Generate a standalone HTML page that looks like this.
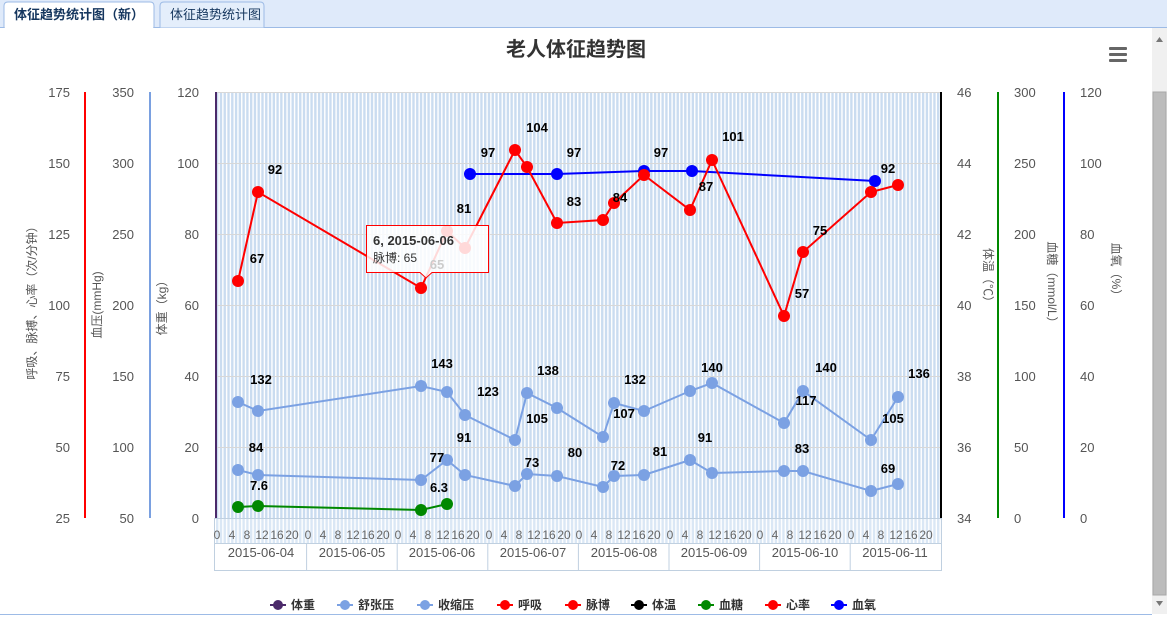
<!DOCTYPE html>
<html><head><meta charset="utf-8"><style>
body{margin:0;width:1167px;height:619px;overflow:hidden;background:#fff;font-family:"Liberation Sans","Noto Sans CJK SC",sans-serif}
</style></head><body>
<svg width="1167" height="619" xmlns="http://www.w3.org/2000/svg" font-family="Liberation Sans, Noto Sans CJK SC, sans-serif">
<defs>
<pattern id="st" x="216" y="0" width="3.775" height="10" patternUnits="userSpaceOnUse">
<rect width="2.4" height="10" fill="#cadcf0"/>
</pattern>
</defs>
<rect x="0" y="0" width="1167" height="27" fill="#dfeafa"/>
<line x1="0" y1="27.5" x2="1167" y2="27.5" stroke="#9dbbe6"/>
<path d="M4,27.5 V6 Q4,2 8,2 H150 Q154,2 154,6 V27.5" fill="#fff" stroke="#9dbbe6"/>
<rect x="5" y="26" width="148" height="3" fill="#fff"/>
<path d="M160,27.5 V6 Q160,2 164,2 H260 Q264,2 264,6 V27.5" fill="#e4eefb" stroke="#9dbbe6"/>
<text x="14" y="19" font-size="13" font-weight="bold" fill="#15365e">体征趋势统计图（新）</text>
<text x="170" y="19" font-size="13" fill="#15365e">体征趋势统计图</text>
<rect x="1152" y="28" width="15" height="586" fill="#f0f0f0"/>
<rect x="1153" y="92" width="13" height="503" fill="#bcbcbc" stroke="#a8a8a8"/>
<path d="M1156,42 L1159.5,37 L1163,42 Z" fill="#777"/>
<path d="M1156,601 L1159.5,606 L1163,601 Z" fill="#777"/>
<line x1="0" y1="614.5" x2="1152" y2="614.5" stroke="#9dbbe6"/>
<text x="576" y="56" font-size="20" font-weight="bold" fill="#333" text-anchor="middle">老人体征趋势图</text>
<g fill="#666"><rect x="1109" y="47" width="18" height="3" rx="1"/><rect x="1109" y="53" width="18" height="3" rx="1"/><rect x="1109" y="59" width="18" height="3" rx="1"/></g>
<rect x="216" y="92" width="725" height="426" fill="url(#st)"/>
<g stroke="#d8d8d8" stroke-width="1">
<line x1="216" y1="92.5" x2="941" y2="92.5"/><line x1="216" y1="163.5" x2="941" y2="163.5"/><line x1="216" y1="234.5" x2="941" y2="234.5"/><line x1="216" y1="305.5" x2="941" y2="305.5"/><line x1="216" y1="376.5" x2="941" y2="376.5"/><line x1="216" y1="447.5" x2="941" y2="447.5"/>
</g>
<rect x="216" y="518" width="725" height="25" fill="url(#st)" opacity="0.7"/>
<rect x="214.5" y="518.5" width="727" height="52" fill="none" stroke="#c0d0e0"/>
<line x1="214" y1="543.5" x2="941" y2="543.5" stroke="#c0d0e0"/>
<g stroke="#c0d0e0">
<line x1="306.6" y1="543" x2="306.6" y2="571"/><line x1="397.2" y1="543" x2="397.2" y2="571"/><line x1="487.8" y1="543" x2="487.8" y2="571"/><line x1="578.4" y1="543" x2="578.4" y2="571"/><line x1="669" y1="543" x2="669" y2="571"/><line x1="759.6" y1="543" x2="759.6" y2="571"/><line x1="850.2" y1="543" x2="850.2" y2="571"/>
</g>
<g font-size="12" fill="#666" text-anchor="middle">
<text x="217" y="539">0</text><text x="232" y="539">4</text><text x="247" y="539">8</text><text x="262" y="539">12</text><text x="277" y="539">16</text><text x="292" y="539">20</text>
<text x="308" y="539">0</text><text x="323" y="539">4</text><text x="338" y="539">8</text><text x="353" y="539">12</text><text x="368" y="539">16</text><text x="383" y="539">20</text>
<text x="398" y="539">0</text><text x="413" y="539">4</text><text x="428" y="539">8</text><text x="443" y="539">12</text><text x="458" y="539">16</text><text x="473" y="539">20</text>
<text x="489" y="539">0</text><text x="504" y="539">4</text><text x="519" y="539">8</text><text x="534" y="539">12</text><text x="549" y="539">16</text><text x="564" y="539">20</text>
<text x="579" y="539">0</text><text x="594" y="539">4</text><text x="609" y="539">8</text><text x="624" y="539">12</text><text x="639" y="539">16</text><text x="654" y="539">20</text>
<text x="670" y="539">0</text><text x="685" y="539">4</text><text x="700" y="539">8</text><text x="715" y="539">12</text><text x="730" y="539">16</text><text x="745" y="539">20</text>
<text x="760" y="539">0</text><text x="775" y="539">4</text><text x="790" y="539">8</text><text x="805" y="539">12</text><text x="820" y="539">16</text><text x="835" y="539">20</text>
<text x="851" y="539">0</text><text x="866" y="539">4</text><text x="881" y="539">8</text><text x="896" y="539">12</text><text x="911" y="539">16</text><text x="926" y="539">20</text>
</g>
<g font-size="13" fill="#555" text-anchor="middle">
<text x="261" y="557">2015-06-04</text><text x="352" y="557">2015-06-05</text><text x="442" y="557">2015-06-06</text><text x="533" y="557">2015-06-07</text><text x="624" y="557">2015-06-08</text><text x="714" y="557">2015-06-09</text><text x="805" y="557">2015-06-10</text><text x="895" y="557">2015-06-11</text>
</g>
<line x1="85" y1="92" x2="85" y2="518" stroke="#f00" stroke-width="2"/>
<line x1="150" y1="92" x2="150" y2="518" stroke="#7aa0e0" stroke-width="2"/>
<line x1="216" y1="92" x2="216" y2="518" stroke="#4b2a6a" stroke-width="2"/>
<line x1="941" y1="92" x2="941" y2="518" stroke="#000" stroke-width="2"/>
<line x1="998" y1="92" x2="998" y2="518" stroke="#080" stroke-width="2"/>
<line x1="1064" y1="92" x2="1064" y2="518" stroke="#00f" stroke-width="2"/>
<g font-size="13" fill="#555" text-anchor="end">
<text x="70" y="97">175</text><text x="70" y="168">150</text><text x="70" y="239">125</text><text x="70" y="310">100</text><text x="70" y="381">75</text><text x="70" y="452">50</text><text x="70" y="523">25</text>
<text x="134" y="97">350</text><text x="134" y="168">300</text><text x="134" y="239">250</text><text x="134" y="310">200</text><text x="134" y="381">150</text><text x="134" y="452">100</text><text x="134" y="523">50</text>
<text x="199" y="97">120</text><text x="199" y="168">100</text><text x="199" y="239">80</text><text x="199" y="310">60</text><text x="199" y="381">40</text><text x="199" y="452">20</text><text x="199" y="523">0</text>
</g>
<g font-size="13" fill="#555">
<text x="957" y="97">46</text><text x="957" y="168">44</text><text x="957" y="239">42</text><text x="957" y="310">40</text><text x="957" y="381">38</text><text x="957" y="452">36</text><text x="957" y="523">34</text>
<text x="1014" y="97">300</text><text x="1014" y="168">250</text><text x="1014" y="239">200</text><text x="1014" y="310">150</text><text x="1014" y="381">100</text><text x="1014" y="452">50</text><text x="1014" y="523">0</text>
<text x="1080" y="97">120</text><text x="1080" y="168">100</text><text x="1080" y="239">80</text><text x="1080" y="310">60</text><text x="1080" y="381">40</text><text x="1080" y="452">20</text><text x="1080" y="523">0</text>
</g>
<g font-size="12" fill="#555" text-anchor="middle">
<text transform="translate(36,300) rotate(-90)">呼吸、脉搏、心率（次/分钟）</text>
<text transform="translate(101,305) rotate(-90)">血压(mmHg)</text>
<text transform="translate(166,305) rotate(-90)">体重（kg）</text>
<text transform="translate(984,278) rotate(90)">体温（℃）</text>
<text transform="translate(1048,285) rotate(90)">血糖（mmol/L）</text>
<text transform="translate(1112,272) rotate(90)">血氧（%）</text>
</g>
<g fill="none" stroke-width="2">
<polyline stroke="#7ba1e3" points="238,402 258,411 421,386 447,392 465,415 515,440 527,393 557,408 603,437 614,403 644,411 690,391 712,383 784,423 803,391 871,440 898,397"/>
<polyline stroke="#7ba1e3" points="238,470 258,475 421,480 447,460 465,475 515,486 527,474 557,476 603,487 614,476 644,475 690,460 712,473 784,471 803,471 871,491 898,484"/>
<polyline stroke="#080" points="238,507 258,506 421,510 447,504"/>
<polyline stroke="#00f" points="470,174 557,174 644,171 692,171 875,181"/>
<polyline stroke="#f00" points="238,281 258,192 421,288 447,231 465,248 515,150 527,167 557,223 603,220 614,203 644,175 690,210 712,160 784,316 803,252 871,192 898,185"/>
</g>
<g fill="#7ba1e3">
<circle cx="238" cy="402" r="6"/><circle cx="258" cy="411" r="6"/><circle cx="421" cy="386" r="6"/><circle cx="447" cy="392" r="6"/><circle cx="465" cy="415" r="6"/><circle cx="515" cy="440" r="6"/><circle cx="527" cy="393" r="6"/><circle cx="557" cy="408" r="6"/><circle cx="603" cy="437" r="6"/><circle cx="614" cy="403" r="6"/><circle cx="644" cy="411" r="6"/><circle cx="690" cy="391" r="6"/><circle cx="712" cy="383" r="6"/><circle cx="784" cy="423" r="6"/><circle cx="803" cy="391" r="6"/><circle cx="871" cy="440" r="6"/><circle cx="898" cy="397" r="6"/>
<circle cx="238" cy="470" r="6"/><circle cx="258" cy="475" r="6"/><circle cx="421" cy="480" r="6"/><circle cx="447" cy="460" r="6"/><circle cx="465" cy="475" r="6"/><circle cx="515" cy="486" r="6"/><circle cx="527" cy="474" r="6"/><circle cx="557" cy="476" r="6"/><circle cx="603" cy="487" r="6"/><circle cx="614" cy="476" r="6"/><circle cx="644" cy="475" r="6"/><circle cx="690" cy="460" r="6"/><circle cx="712" cy="473" r="6"/><circle cx="784" cy="471" r="6"/><circle cx="803" cy="471" r="6"/><circle cx="871" cy="491" r="6"/><circle cx="898" cy="484" r="6"/>
</g>
<g fill="#080"><circle cx="238" cy="507" r="6"/><circle cx="258" cy="506" r="6"/><circle cx="421" cy="510" r="6"/><circle cx="447" cy="504" r="6"/></g>
<g fill="#00f"><circle cx="470" cy="174" r="6"/><circle cx="557" cy="174" r="6"/><circle cx="644" cy="171" r="6"/><circle cx="692" cy="171" r="6"/><circle cx="875" cy="181" r="6"/></g>
<g fill="#f00">
<circle cx="238" cy="281" r="6"/><circle cx="258" cy="192" r="6"/><circle cx="421" cy="288" r="6"/><circle cx="447" cy="231" r="6"/><circle cx="465" cy="248" r="6"/><circle cx="515" cy="150" r="6"/><circle cx="527" cy="167" r="6"/><circle cx="557" cy="223" r="6"/><circle cx="603" cy="220" r="6"/><circle cx="614" cy="203" r="6"/><circle cx="644" cy="175" r="6"/><circle cx="690" cy="210" r="6"/><circle cx="712" cy="160" r="6"/><circle cx="784" cy="316" r="6"/><circle cx="803" cy="252" r="6"/><circle cx="871" cy="192" r="6"/><circle cx="898" cy="185" r="6"/>
</g>
<g font-size="13" font-weight="bold" fill="#000" text-anchor="middle">
<text x="257" y="263">67</text><text x="275" y="174">92</text><text x="464" y="213">81</text><text x="537" y="132">104</text><text x="574" y="206">83</text><text x="620" y="202">84</text><text x="706" y="191">87</text><text x="733" y="141">101</text><text x="802" y="298">57</text><text x="820" y="235">75</text>
<text x="488" y="157">97</text><text x="574" y="157">97</text><text x="661" y="157">97</text><text x="888" y="173">92</text>
<text x="261" y="384">132</text><text x="442" y="368">143</text><text x="488" y="396">123</text><text x="537" y="423">105</text><text x="548" y="375">138</text><text x="624" y="418">107</text><text x="635" y="384">132</text><text x="712" y="372">140</text><text x="806" y="405">117</text><text x="826" y="372">140</text><text x="893" y="423">105</text><text x="919" y="378">136</text>
<text x="256" y="452">84</text><text x="437" y="462">77</text><text x="464" y="442">91</text><text x="532" y="467">73</text><text x="575" y="457">80</text><text x="618" y="470">72</text><text x="660" y="456">81</text><text x="705" y="442">91</text><text x="802" y="453">83</text><text x="888" y="473">69</text>
<text x="259" y="490">7.6</text><text x="439" y="492">6.3</text>
</g>
<path d="M366.5,225.5 H488.5 V272.5 H432 L426,278 L420,272.5 H366.5 Z" fill="#fff" fill-opacity="0.85" stroke="#f00"/>
<text x="373" y="245" font-size="13" font-weight="bold" fill="#333">6, 2015-06-06</text>
<text x="373" y="262" font-size="12" fill="#333">脉博: 65</text>
<text x="437" y="269" font-size="13" font-weight="bold" fill="#ccc" text-anchor="middle">65</text>
<g font-size="12" font-weight="bold" fill="#333">
<line x1="270" y1="605" x2="286" y2="605" stroke="#4b2a6a" stroke-width="2"/><circle cx="278" cy="605" r="5" fill="#4b2a6a"/><text x="291" y="609">体重</text>
<line x1="337" y1="605" x2="353" y2="605" stroke="#7ba1e3" stroke-width="2"/><circle cx="345" cy="605" r="5" fill="#7ba1e3"/><text x="358" y="609">舒张压</text>
<line x1="417" y1="605" x2="433" y2="605" stroke="#7ba1e3" stroke-width="2"/><circle cx="425" cy="605" r="5" fill="#7ba1e3"/><text x="438" y="609">收缩压</text>
<line x1="497" y1="605" x2="513" y2="605" stroke="#f00" stroke-width="2"/><circle cx="505" cy="605" r="5" fill="#f00"/><text x="518" y="609">呼吸</text>
<line x1="565" y1="605" x2="581" y2="605" stroke="#f00" stroke-width="2"/><circle cx="573" cy="605" r="5" fill="#f00"/><text x="586" y="609">脉博</text>
<line x1="631" y1="605" x2="647" y2="605" stroke="#000" stroke-width="2"/><circle cx="639" cy="605" r="5" fill="#000"/><text x="652" y="609">体温</text>
<line x1="698" y1="605" x2="714" y2="605" stroke="#080" stroke-width="2"/><circle cx="706" cy="605" r="5" fill="#080"/><text x="719" y="609">血糖</text>
<line x1="765" y1="605" x2="781" y2="605" stroke="#f00" stroke-width="2"/><circle cx="773" cy="605" r="5" fill="#f00"/><text x="786" y="609">心率</text>
<line x1="831" y1="605" x2="847" y2="605" stroke="#00f" stroke-width="2"/><circle cx="839" cy="605" r="5" fill="#00f"/><text x="852" y="609">血氧</text>
</g>
</svg>
</body></html>
